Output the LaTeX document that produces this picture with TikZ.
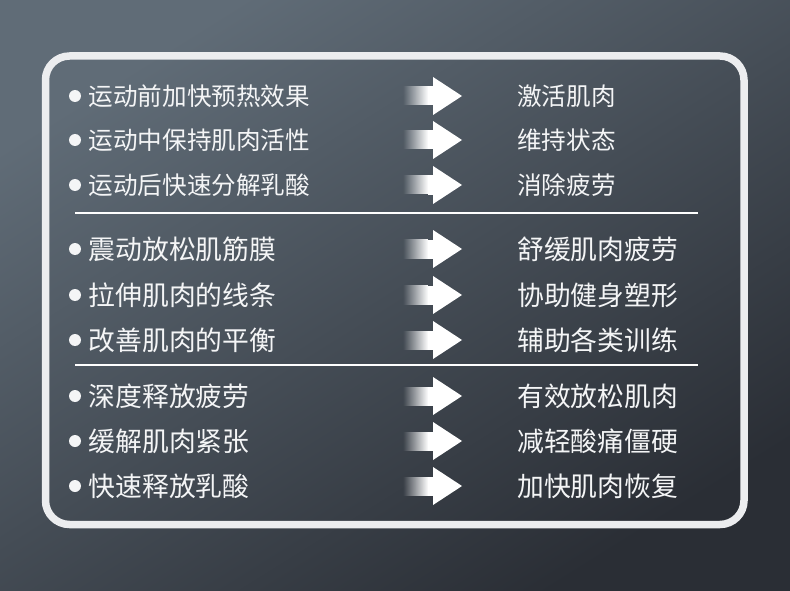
\documentclass[tikz,border=0pt]{standalone}
\usepackage{fontspec}
\newfontfamily\cjk{Noto Sans CJK SC}
\usetikzlibrary{fadings}
\tikzfading[name=fadein, left color=transparent!100, right color=transparent!0]
\definecolor{bgA}{HTML}{606C77}
\definecolor{bgB}{HTML}{2A2E35}
\definecolor{frame}{HTML}{ECEDEF}
\definecolor{txt}{HTML}{F4F5F6}
\tikzset{
  rowtext/.style={anchor=west, inner sep=0pt, text=txt, font=\cjk\fontsize{24.6}{28}\selectfont},
  bigtext/.style={rowtext, font=\cjk\fontsize{26.8}{30}\selectfont},
  bulletdot/.style={circle, fill=txt, inner sep=0pt, minimum size=12pt},
  divider/.style={draw=white, line width=1.2pt},
  framebox/.style={draw=frame, line width=7.5pt, rounded corners=24pt},
}
\begin{document}
\begin{tikzpicture}[x=1pt,y=-1pt]
\useasboundingbox (0,0) rectangle (790,591);
\shade[top color=bgA, bottom color=bgB, shading angle=32] (0,0) rectangle (790,591);
\draw[framebox] (45.5,56) rectangle (744,524.5);
\coordinate (d1a) at (75,213); \coordinate (d1b) at (698,213);
\coordinate (d2a) at (75,365); \coordinate (d2b) at (698,365);
\draw[divider] (d1a) -- (d1b);
\draw[divider] (d2a) -- (d2b);
\foreach \yy/\lt/\rt/\n/\st in {
  96/运动前加快预热效果/激活肌肉/1/rowtext,
  140/运动中保持肌肉活性/维持状态/2/rowtext,
  185/运动后快速分解乳酸/消除疲劳/3/rowtext,
  249/震动放松肌筋膜/舒缓肌肉疲劳/4/bigtext,
  295/拉伸肌肉的线条/协助健身塑形/5/bigtext,
  340/改善肌肉的平衡/辅助各类训练/6/bigtext,
  396/深度释放疲劳/有效放松肌肉/7/bigtext,
  441/缓解肌肉紧张/减轻酸痛僵硬/8/bigtext,
  486/快速释放乳酸/加快肌肉恢复/9/bigtext}{
  \node[bulletdot] (b\n) at (75,\yy) {};
  \node[\st] (l\n) at (88.5,\yy) {\lt};
  \node[\st] (r\n) at (517,\yy) {\rt};
  \fill[white, path fading=fadein] (403,\yy-9.5) rectangle (428,\yy+9.5);
  \fill[white] (427.5,\yy-9.5) rectangle (434,\yy+9.5);
  \fill[white] (433,\yy-19) -- (462,\yy) -- (433,\yy+19) -- cycle;
}
\end{tikzpicture}
\end{document}
